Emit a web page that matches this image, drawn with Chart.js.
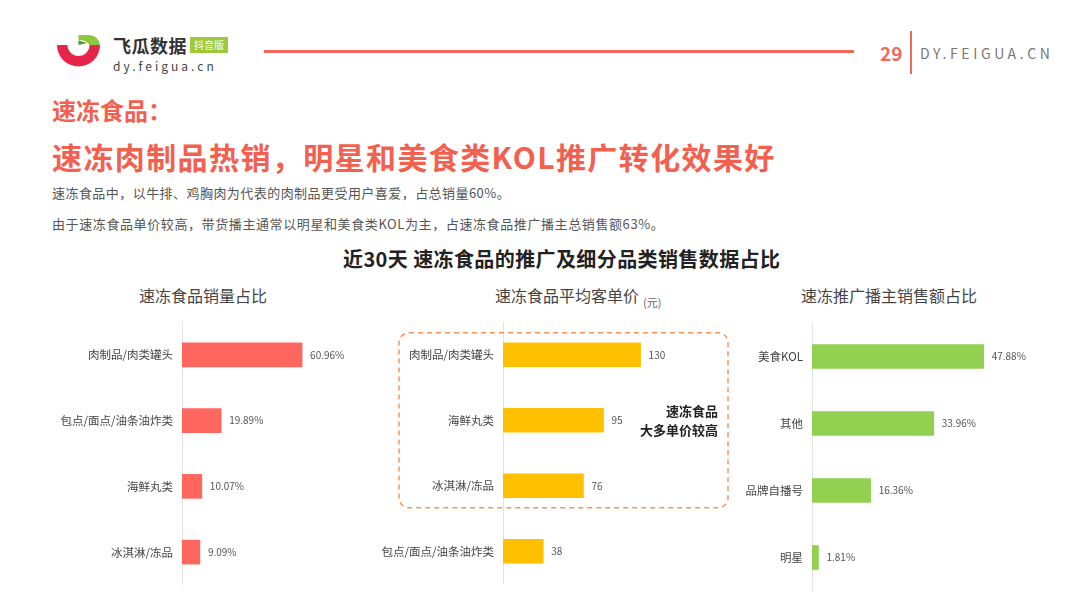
<!DOCTYPE html>
<html>
<head>
<meta charset="utf-8">
<script src="https://cdn.jsdelivr.net/npm/chart.js@4/dist/chart.umd.min.js"></script>
<style>
  html, body { margin: 0; padding: 0; background: #fff; }
  body { width: 1080px; height: 608px; position: relative; overflow: hidden;
         font-family: "Noto Sans CJK SC", "Noto Sans", sans-serif; }
  .abs { position: absolute; white-space: nowrap; }
  canvas { position: absolute; }
</style>
</head>
<body>
<!-- header -->
<svg class="abs" style="left:54px;top:32px" width="50" height="36" viewBox="0 0 50 36">
  <path d="M3 13 A21.5 21.5 0 0 0 46 13 L35.5 13 A11 11 0 0 1 13.5 13 Z" fill="#E5254A"/>
  <path d="M24.5 3 L35 3 A11 11 0 0 1 46 13 L35.5 13 A11 11 0 0 0 24.5 8.5 Z" fill="#8DC63F"/>
  <path d="M24.5 8.5 L33 11 L24.5 13 Z" fill="#4E9A2E"/>
</svg>
<div class="abs" style="left:113px;top:34px;font-size:18px;line-height:22px;font-weight:700;color:#333;letter-spacing:0.5px">飞瓜数据</div>
<div class="abs" style="left:190px;top:37px;width:38px;height:16px;background:#9DC93B;color:#fff;font-size:10px;line-height:16px;text-align:center">抖音版</div>
<div class="abs" style="left:113px;top:58px;font-size:12px;line-height:16px;color:#444;letter-spacing:3px">dy.feigua.cn</div>
<div class="abs" style="left:264px;top:50px;width:590px;height:3px;background:#F3675A"></div>
<div class="abs" style="left:880px;top:42px;font-size:19px;line-height:22px;font-weight:700;color:#F06A5C">29</div>
<div class="abs" style="left:910px;top:31px;width:2px;height:43px;background:#F06A5C"></div>
<div class="abs" style="left:920px;top:44px;font-size:14px;line-height:18px;color:#777;letter-spacing:3.6px">DY.FEIGUA.CN</div>

<!-- title block -->
<div class="abs" style="left:52px;top:96px;font-size:24px;line-height:28px;font-weight:700;color:#F2604F">速冻食品：</div>
<div class="abs" style="left:52px;top:139px;font-size:30px;line-height:34px;font-weight:700;color:#F2604F;letter-spacing:1.4px">速冻肉制品热销，明星和美食类KOL推广转化效果好</div>
<div class="abs" style="left:52px;top:184px;font-size:13px;line-height:18px;color:#555;letter-spacing:0.45px">速冻食品中，以牛排、鸡胸肉为代表的肉制品更受用户喜爱，占总销量60%。</div>
<div class="abs" style="left:52px;top:215px;font-size:13px;line-height:18px;color:#555;letter-spacing:0.6px">由于速冻食品单价较高，带货播主通常以明星和美食类KOL为主，占速冻食品推广播主总销售额63%。</div>

<div class="abs" style="left:343px;top:247px;font-size:20px;line-height:24px;font-weight:700;color:#222;letter-spacing:0.4px">近30天 速冻食品的推广及细分品类销售数据占比</div>

<div class="abs" style="left:103px;width:200px;top:285px;text-align:center;font-size:16px;line-height:20px;color:#444">速冻食品销量占比</div>
<div class="abs" style="left:467px;width:200px;top:285px;text-align:center;font-size:16px;line-height:20px;color:#444">速冻食品平均客单价</div>
<div class="abs" style="left:643px;top:295px;font-size:11px;line-height:14px;color:#666">(元)</div>
<div class="abs" style="left:789px;width:200px;top:285px;text-align:center;font-size:16px;line-height:20px;color:#444">速冻推广播主销售额占比</div>

<canvas id="c1" style="left:40px;top:322px" width="339" height="263"></canvas>
<canvas id="c2" style="left:380px;top:322px" width="377" height="262"></canvas>
<canvas id="c3" style="left:745px;top:323px" width="318" height="268"></canvas>

<script>
// 速冻食品销量占比 (%)
const salesLabels = ['肉制品/肉类罐头', '包点/面点/油条油炸类', '海鲜丸类', '冰淇淋/冻品'];
const salesShare = [60.96, 19.89, 10.07, 9.09];

// 速冻食品平均客单价 (元)
const priceLabels = ['肉制品/肉类罐头', '海鲜丸类', '冰淇淋/冻品', '包点/面点/油条油炸类'];
const priceValues = [130, 95, 76, 38];

// 速冻推广播主销售额占比 (%)
const anchorLabels = ['美食KOL', '其他', '品牌自播号', '明星'];
const anchorShare = [47.88, 33.96, 16.36, 1.81];

const FONT = '"Noto Sans CJK SC", "Noto Sans", sans-serif';

// draw the value next to each bar
const valueLabels = {
  id: 'valueLabels',
  afterDatasetsDraw(chart, args, opts) {
    const ctx = chart.ctx;
    const ds = chart.data.datasets[0];
    ctx.save();
    ctx.font = '10px ' + FONT;
    ctx.fillStyle = '#555';
    ctx.textAlign = 'left';
    ctx.textBaseline = 'middle';
    chart.getDatasetMeta(0).data.forEach((bar, i) => {
      ctx.fillText(ds.data[i] + (opts.suffix || ''), bar.x + 8, bar.y);
    });
    ctx.restore();
  }
};

// dashed box + note on the price chart
const priceNote = {
  id: 'priceNote',
  afterDraw(chart) {
    const ctx = chart.ctx;
    const y = chart.scales.y;
    const top = y.getPixelForValue(0) - 22;
    const bottom = y.getPixelForValue(2) + 22;
    const left = 19, right = chart.chartArea.left + 225;
    ctx.save();
    ctx.strokeStyle = '#F2955A';
    ctx.lineWidth = 1.5;
    ctx.setLineDash([5, 4]);
    ctx.beginPath();
    ctx.roundRect(left, top, right - left, bottom - top, 10);
    ctx.stroke();
    ctx.setLineDash([]);
    ctx.font = 'bold 13px ' + FONT;
    ctx.fillStyle = '#222';
    ctx.textAlign = 'right';
    ctx.textBaseline = 'middle';
    const mid = y.getPixelForValue(1);
    ctx.fillText('速冻食品', right - 10, mid - 9.5);
    ctx.fillText('大多单价较高', right - 10, mid + 9.5);
    ctx.restore();
  }
};

function makeBarChart(id, labels, values, color, axisWidth, max, suffix, extra) {
  return new Chart(document.getElementById(id), {
    type: 'bar',
    data: {
      labels: labels,
      datasets: [{
        data: values,
        backgroundColor: color,
        borderWidth: 0,
        barThickness: 24
      }]
    },
    options: {
      indexAxis: 'y',
      responsive: false,
      animation: false,
      layout: { padding: 0 },
      plugins: {
        legend: { display: false },
        tooltip: { enabled: false },
        valueLabels: { suffix: suffix }
      },
      scales: {
        x: { display: false, min: 0, max: max },
        y: {
          grid: { display: false, drawTicks: false },
          border: { display: true, color: '#E3E3E3', width: 1 },
          ticks: { color: '#444', padding: 9, font: { family: FONT, size: 11.5 } },
          afterFit(scale) {
            scale.width = axisWidth;
            // let the plot fill the whole canvas height
            scale.paddingTop = 0;
            scale.paddingBottom = 0;
          }
        }
      }
    },
    plugins: [valueLabels].concat(extra || [])
  });
}

makeBarChart('c1', salesLabels, salesShare, '#FF665E', 142, 100, '%');
makeBarChart('c2', priceLabels, priceValues, '#FFC000', 123, 240, '', [priceNote]);
makeBarChart('c3', anchorLabels, anchorShare, '#92D050', 67, 70, '%');
</script>
</body>
</html>
